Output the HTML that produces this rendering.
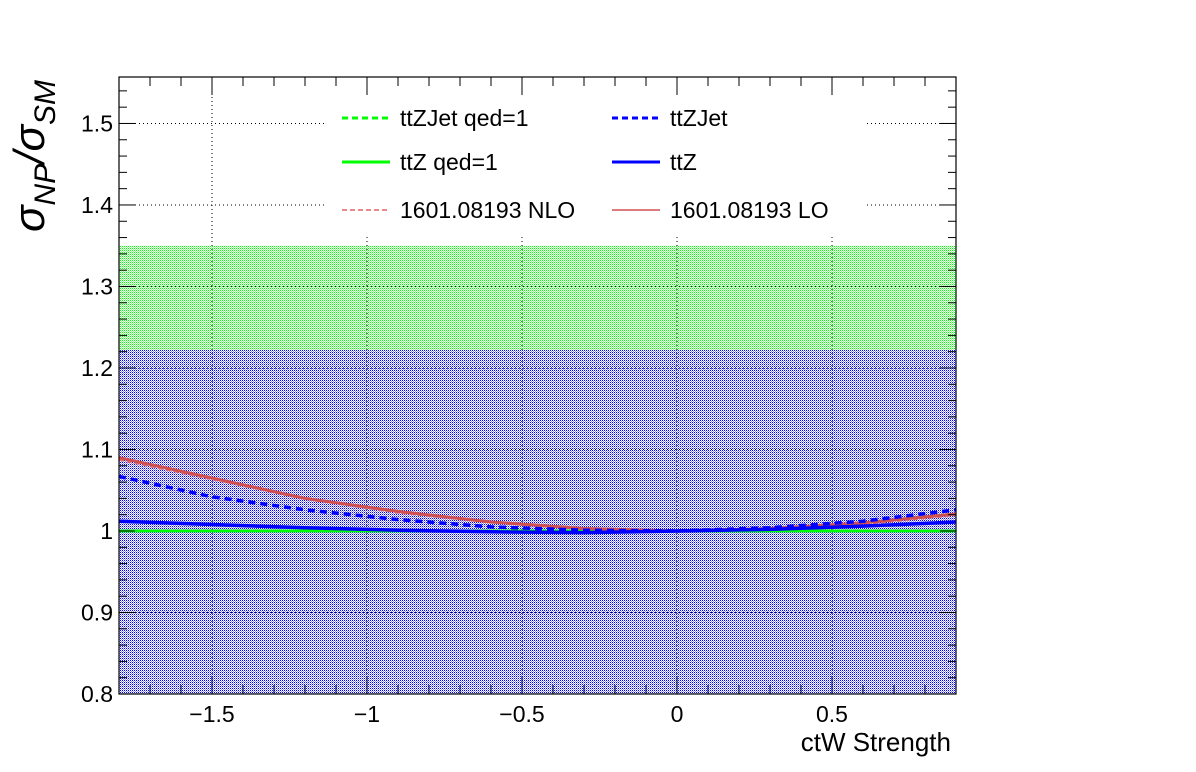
<!DOCTYPE html>
<html><head><meta charset="utf-8"><style>
html,body{margin:0;padding:0;background:#fff;}
svg{display:block;font-family:"Liberation Sans",sans-serif;}
</style></head><body>
<svg id="chart" width="1196" height="772" xmlns="http://www.w3.org/2000/svg">
<defs>
<pattern id="pb" width="2" height="2" patternUnits="userSpaceOnUse"><rect width="2" height="2" fill="#fff"/><rect width="1" height="1" fill="#0000ff"/><rect x="1" y="1" width="1" height="1" fill="#9090ff"/></pattern>
<pattern id="pg" width="2" height="2" patternUnits="userSpaceOnUse"><rect width="2" height="2" fill="#fff"/><rect width="1" height="1" fill="#00ff00"/><rect x="1" y="1" width="1" height="1" fill="#90ff90"/></pattern>
</defs>
<g id="bands"></g>
<g id="grid"></g>
<g id="series"></g>
<g id="axes"></g>
<g id="legend"></g>
<text x="951" y="751" font-size="26" text-anchor="end">ctW Strength</text>
<text transform="translate(44,232) rotate(-90)" font-size="44" font-style="italic">σ<tspan font-size="30" dy="11">NP</tspan><tspan dy="-11">/σ</tspan><tspan font-size="30" dy="11">SM</tspan></text>
</svg>
<script>
const xVals=[-1.8,-1.5,-1.2,-0.9,-0.6,-0.3,0,0.3,0.6,0.9];
const loVals=[1.090,1.065,1.040,1.024,1.011,1.003,1.000,1.003,1.010,1.021];
const nloVals=[1.088,1.064,1.040,1.023,1.011,1.003,1.000,1.003,1.009,1.020];
const ttzJetVals=[1.067,1.042,1.026,1.014,1.005,1.001,1.000,1.004,1.012,1.026];
const ttzVals=[1.012,1.008,1.004,1.001,0.999,0.998,1.000,1.002,1.006,1.011];
const ttzJetQedVals=[1.000,1.000,1.000,1.000,1.000,1.000,1.000,1.000,1.000,1.000];
const ttzQedVals=[1.000,1.000,1.000,1.000,1.000,1.000,1.000,1.000,1.000,1.000];
const greenBand=[0.8,1.35];
const blueBand=[0.8,1.222];
const xTickLabels=[-1.5,-1,-0.5,0,0.5];
const yTickLabels=[0.8,0.9,1,1.1,1.2,1.3,1.4,1.5];

const L=119,R=956,T=77,B=694;
const xMin=-1.8,xMax=0.9,yMin=0.8,yMax=1.557;
const X=v=>L+(v-xMin)/(xMax-xMin)*(R-L);
const Y=v=>B-(v-yMin)/(yMax-yMin)*(B-T);
const NS='http://www.w3.org/2000/svg';
function mk(tag,attrs,parent){const e=document.createElementNS(NS,tag);for(const k in attrs)e.setAttribute(k,attrs[k]);document.getElementById(parent).appendChild(e);return e;}

let e;
e=mk('rect',{x:L,y:Y(greenBand[1]),width:R-L,height:Y(greenBand[0])-Y(greenBand[1]),fill:'url(#pg)'},'bands');


e=mk('rect',{x:L,y:Y(blueBand[1]),width:R-L,height:Y(blueBand[0])-Y(blueBand[1]),fill:'url(#pb)'},'bands');



xTickLabels.forEach(v=>{
  e=mk('line',{x1:X(v),x2:X(v),y1:T,y2:B,stroke:'#000','stroke-dasharray':'1,3','stroke-width':1},'grid');
  
  
});
yTickLabels.forEach(v=>{
  e=mk('line',{x1:L,x2:R,y1:Y(v),y2:Y(v),stroke:'#000','stroke-dasharray':'1,3','stroke-width':1},'grid');
  
  
});

function series(vals,color,w,dash,name){
  const d=xVals.map((x,i)=>(i?'L':'M')+X(x).toFixed(1)+','+Y(vals[i]).toFixed(1)).join(' ');
  const a={d:d,fill:'none',stroke:color,'stroke-width':w};
  if(dash)a['stroke-dasharray']=dash;
  e=mk('path',a,'series');
  
  
}
series(ttzQedVals,'#00ff00',3,null,'ttz-qed-line');
series(ttzJetQedVals,'#00ff00',3,'6,4','ttzjet-qed-line');
series(nloVals,'#e07070',3,'5,3','nlo-line');
series(loVals,'#d05050',3,null,'lo-line');
series(ttzJetVals,'#0000ff',3.5,'7,5','ttzjet-line');
series(ttzVals,'#0000ff',3.5,null,'ttz-line');

e=mk('rect',{x:L,y:T,width:R-L,height:B-T,fill:'none',stroke:'#000','stroke-width':1.2},'axes');


for(let k=0;k<=38;k++){
  const v=0.8+k*0.02;const y=Y(v);if(y<T)break;
  const major=k%5===0;const len=major?16:8;
  e=mk('line',{x1:L,x2:L+len,y1:y,y2:y,stroke:'#000'},'axes');
  
  
  e=mk('line',{x1:R,x2:R-len,y1:y,y2:y,stroke:'#000'},'axes');
  
  
}
for(let k=-18;k<=9;k++){
  const v=k/10;const x=X(v);
  const major=k%5===0;const len=major?18:9;
  e=mk('line',{x1:x,x2:x,y1:B,y2:B-len,stroke:'#000'},'axes');
  
  
  e=mk('line',{x1:x,x2:x,y1:T,y2:T+len,stroke:'#000'},'axes');
  
  
}
yTickLabels.forEach(v=>{
  e=mk('text',{x:L-6,y:Y(v)+8,'font-size':23,'text-anchor':'end'},'axes');
  e.textContent=String(v);
  
  
});
xTickLabels.forEach(v=>{
  e=mk('text',{x:X(v),y:722,'font-size':23,'text-anchor':'middle'},'axes');
  e.textContent=(v<0?'\u2212':'')+String(Math.abs(v));
  
  
});

const legendItems=[
 ['ttZJet qed=1','#00ff00',3,'6,4',342,118],
 ['ttZJet','#0000ff',3,'6,4',612,118],
 ['ttZ qed=1','#00ff00',3,null,342,162],
 ['ttZ','#0000ff',3,null,612,162],
 ['1601.08193 NLO','#e06060',1.5,'5,3',342,210],
 ['1601.08193 LO','#d05050',1.5,null,612,210]
];
e=mk('rect',{x:325,y:95,width:540,height:140,fill:'#fff'},'legend');


legendItems.forEach(it=>{
  const a={x1:it[4],x2:it[4]+48,y1:it[5],y2:it[5],stroke:it[1],'stroke-width':it[2]};
  if(it[3])a['stroke-dasharray']=it[3];
  e=mk('line',a,'legend');
  
  
  e=mk('text',{x:it[4]+58,y:it[5]+8,'font-size':23},'legend');
  e.textContent=it[0];
  
  
});
</script>
</body></html>
